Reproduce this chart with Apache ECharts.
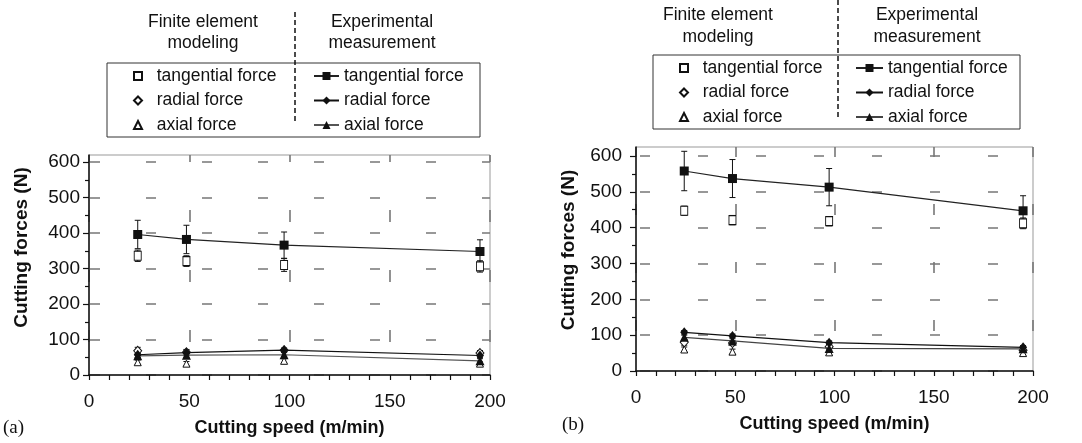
<!DOCTYPE html>
<html>
<head>
<meta charset="utf-8">
<script src="https://cdn.jsdelivr.net/npm/echarts@6/dist/echarts.min.js"></script>
<style>
html,body{margin:0;padding:0;background:#fff;}
#c{width:1082px;height:443px;}
</style>
</head>
<body>
<div id="c"></div>
<script>
// ---- data ----
const speeds = [24.3, 48.6, 97.3, 195];
const xTicks = [0, 50, 100, 150, 200];
const yTicks = [0, 100, 200, 300, 400, 500, 600];

// panel (a)
const aFeTan = [336, 321, 310, 306];
const aFeTanErr = [16, 15, 18, 16];
const aExpTan = [396, 382, 366, 348];
const aExpTanErr = [40, 40, 37, 33];
const aFeRad = [68, 64, 70, 62];
const aFeRadErr = [10, 8, 6, 7];
const aExpRad = [57, 63, 70, 55];
const aExpRadErr = [8, 7, 5, 6];
const aFeAx = [36, 32, 40, 32];
const aFeAxErr = [6, 6, 6, 5];
const aExpAx = [54, 56, 57, 40];
const aExpAxErr = [6, 6, 6, 6];

// panel (b)
const bFeTan = [447, 421, 418, 412];
const bFeTanErr = [13, 13, 13, 15];
const bExpTan = [558, 537, 513, 447];
const bExpTanErr = [55, 53, 52, 42];
const bFeRad = [80, 78, 68, 58];
const bFeRadErr = [8, 7, 6, 6];
const bExpRad = [108, 98, 79, 66];
const bExpRadErr = [5, 5, 5, 5];
const bFeAx = [60, 54, 52, 50];
const bFeAxErr = [7, 7, 6, 6];
const bExpAx = [94, 84, 63, 62];
const bExpAxErr = [6, 6, 5, 5];

const legendLabels = ['tangential force', 'radial force', 'axial force'];

// ---- helpers ----
const FONT = "'Liberation Sans', Arial, Helvetica, sans-serif";
const pts = (v) => speeds.map((s, i) => [s, v[i]]);
const errs = (v, e) => speeds.map((s, i) => [s, v[i] - e[i], v[i] + e[i]]);

function errRender(params, api) {
  const x = api.value(0), lo = api.value(1), hi = api.value(2);
  const p1 = api.coord([x, hi]), p2 = api.coord([x, lo]);
  const w = 3;
  const st = { stroke: '#111', lineWidth: 1 };
  return { type: 'group', children: [
    { type: 'line', shape: { x1: p1[0], y1: p1[1], x2: p2[0], y2: p2[1] }, style: st },
    { type: 'line', shape: { x1: p1[0] - w, y1: p1[1], x2: p1[0] + w, y2: p1[1] }, style: st },
    { type: 'line', shape: { x1: p2[0] - w, y1: p2[1], x2: p2[0] + w, y2: p2[1] }, style: st }
  ]};
}
function errSeries(v, e, gi) {
  return { type: 'custom', xAxisIndex: gi, yAxisIndex: gi, renderItem: errRender,
    data: errs(v, e), encode: { x: 0, y: [1, 2] }, z: 1, silent: true };
}
function feSeries(name, v, symbol, size, gi) {
  return { type: 'scatter', name: name, xAxisIndex: gi, yAxisIndex: gi, data: pts(v),
    symbol: symbol, symbolSize: size, z: 3,
    itemStyle: { color: '#fff', borderColor: '#111', borderWidth: 1, opacity: 1 } };
}
function expSeries(name, v, symbol, size, gi, lineColor) {
  return { type: 'line', name: name, xAxisIndex: gi, yAxisIndex: gi, data: pts(v),
    symbol: symbol, symbolSize: size, z: 4, showAllSymbol: true,
    lineStyle: { color: lineColor, width: 1.2 },
    itemStyle: { color: '#111', borderColor: '#111', borderWidth: 0, opacity: 1 } };
}

function xAxisCfg(gi, hDash) {
  return {
    type: 'value', gridIndex: gi, min: 0, max: 200, interval: 50,
    name: 'Cutting speed (m/min)', nameLocation: 'middle', nameGap: 44,
    nameTextStyle: { fontFamily: FONT, fontWeight: 'bold', fontSize: 18, color: '#111' },
    axisLine: { lineStyle: { color: '#111', width: 1.5 } },
    axisTick: { length: 5, lineStyle: { color: '#111', width: 1.2 } },
    minorTick: { show: true, splitNumber: 5, length: 5, lineStyle: { color: '#111', width: 1.2 } },
    splitLine: { show: true, lineStyle: { color: '#777', width: 1.6, type: hDash.type, dashOffset: hDash.off } },
    axisLabel: { fontFamily: FONT, fontSize: 19, color: '#111', margin: 17, customValues: xTicks }
  };
}
function yAxisCfg(gi, max, dash, labelMargin, namePad, nameGap) {
  return {
    type: 'value', gridIndex: gi, min: 0, max: max, interval: 100,
    name: 'Cutting forces (N)', nameLocation: 'middle', nameGap: nameGap,
    nameTextStyle: { fontFamily: FONT, fontWeight: 'bold', fontSize: 19, color: '#111', padding: [0, 0, 0, namePad] },
    axisLine: { show: true, lineStyle: { color: '#111', width: 1.5 } },
    axisTick: { show: true, length: 6, customValues: yTicks, lineStyle: { color: '#111', width: 1.2 } },
    minorTick: { show: true, splitNumber: 2, length: 4, lineStyle: { color: '#111', width: 1.2 } },
    splitLine: { show: true, lineStyle: { color: '#777', width: 1.6, type: dash.type, dashOffset: dash.off } },
    axisLabel: { fontFamily: FONT, fontSize: 19, color: '#111', margin: labelMargin, customValues: yTicks }
  };
}

const names = {
  aFe: ['a-fe-tan', 'a-fe-rad', 'a-fe-ax'],
  aExp: ['a-exp-tan', 'a-exp-rad', 'a-exp-ax'],
  bFe: ['b-fe-tan', 'b-fe-rad', 'b-fe-ax'],
  bExp: ['b-exp-tan', 'b-exp-rad', 'b-exp-ax']
};
function labelOf(n) {
  if (n.endsWith('tan')) return legendLabels[0];
  if (n.endsWith('rad')) return legendLabels[1];
  return legendLabels[2];
}
function legendCfg(data, left, top, iw, ih, pre) {
  return {
    data: data, orient: 'vertical', left: left, top: top, padding: 0,
    itemWidth: iw, itemHeight: ih, itemGap: 6.5, selectedMode: false,
    formatter: (n) => pre + labelOf(n),
    textStyle: { fontFamily: FONT, fontSize: 17.5, color: '#111', lineHeight: 17.5 }
  };
}

const series = [
  // panel a
  errSeries(aFeTan, aFeTanErr, 0), errSeries(aExpTan, aExpTanErr, 0),
  errSeries(aFeRad, aFeRadErr, 0), errSeries(aExpRad, aExpRadErr, 0),
  errSeries(aFeAx, aFeAxErr, 0), errSeries(aExpAx, aExpAxErr, 0),
  feSeries(names.aFe[0], aFeTan, 'rect', [7, 9], 0),
  feSeries(names.aFe[1], aFeRad, 'diamond', [8, 9], 0),
  feSeries(names.aFe[2], aFeAx, 'triangle', 7, 0),
  expSeries(names.aExp[0], aExpTan, 'rect', 9, 0, '#222'),
  expSeries(names.aExp[1], aExpRad, 'diamond', [8, 10], 0, '#111'),
  expSeries(names.aExp[2], aExpAx, 'triangle', 9, 0, '#555'),
  // panel b
  errSeries(bFeTan, bFeTanErr, 1), errSeries(bExpTan, bExpTanErr, 1),
  errSeries(bFeRad, bFeRadErr, 1), errSeries(bExpRad, bExpRadErr, 1),
  errSeries(bFeAx, bFeAxErr, 1), errSeries(bExpAx, bExpAxErr, 1),
  feSeries(names.bFe[0], bFeTan, 'rect', [7, 9], 1),
  feSeries(names.bFe[1], bFeRad, 'diamond', [8, 9], 1),
  feSeries(names.bFe[2], bFeAx, 'triangle', 7, 1),
  expSeries(names.bExp[0], bExpTan, 'rect', 9, 1, '#222'),
  expSeries(names.bExp[1], bExpRad, 'diamond', [8, 10], 1, '#111'),
  expSeries(names.bExp[2], bExpAx, 'triangle', 9, 1, '#444')
];

function txt(x, y, text, align, font, size) {
  return { type: 'text', x: x, y: y, style: { text: text, align: align || 'center', verticalAlign: 'middle',
    fontFamily: font || FONT, fontSize: size || 17.5, fill: '#111', lineHeight: 21 } };
}

const option = {
  animation: false,
  backgroundColor: '#fff',
  grid: [
    { left: 89, top: 155, width: 401, height: 220, show: true, borderColor: '#999', borderWidth: 1, backgroundColor: 'transparent' },
    { left: 636, top: 147, width: 397, height: 224, show: true, borderColor: '#999', borderWidth: 1, backgroundColor: 'transparent' }
  ],
  xAxis: [
    xAxisCfg(0, { type: [12, 48], off: 5 }),
    xAxisCfg(1, { type: [11, 47], off: 59 })
  ],
  yAxis: [
    yAxisCfg(0, 620, { type: [10, 46], off: 55 }, 9, 35, 58),
    yAxisCfg(1, 625, { type: [10, 48], off: 54 }, 14, 18, 58)
  ],
  legend: [
    legendCfg(names.aFe, 133, 67, 8, 8, '  '),
    legendCfg(names.aExp, 313, 67, 25, 10, ''),
    legendCfg(names.bFe, 679, 59, 8, 8, '  '),
    legendCfg(names.bExp, 855, 59, 27, 10, '')
  ],
  graphic: [
    { type: 'rect', shape: { x: 107, y: 63, width: 373, height: 74 }, style: { fill: 'none', stroke: '#333', lineWidth: 1 } },
    { type: 'rect', shape: { x: 653, y: 55, width: 367, height: 74 }, style: { fill: 'none', stroke: '#333', lineWidth: 1 } },
    { type: 'line', shape: { x1: 295, y1: 12, x2: 295, y2: 122 }, style: { stroke: '#111', lineWidth: 1.5, lineDash: [5, 3] } },
    { type: 'line', shape: { x1: 838, y1: 0, x2: 838, y2: 120 }, style: { stroke: '#111', lineWidth: 1.5, lineDash: [5, 3] } },
    txt(203, 22, 'Finite element'), txt(203, 43, 'modeling'),
    txt(382, 22, 'Experimental'), txt(382, 43, 'measurement'),
    txt(718, 15, 'Finite element'), txt(718, 37, 'modeling'),
    txt(927, 15, 'Experimental'), txt(927, 37, 'measurement'),
    txt(3, 428, '(a)', 'left', "'Liberation Serif', 'DejaVu Serif', serif", 19),
    txt(562, 425, '(b)', 'left', "'Liberation Serif', 'DejaVu Serif', serif", 19)
  ],
  series: series
};

const chart = echarts.init(document.getElementById('c'), null, { renderer: 'canvas' });
chart.setOption(option);
</script>
</body>
</html>
